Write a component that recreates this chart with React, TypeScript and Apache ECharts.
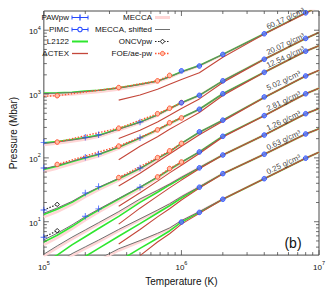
import React, { useEffect, useRef } from 'react';
import * as echarts from 'echarts';

const FONT = '"Liberation Sans", Arial, Helvetica, sans-serif';

const densities = ['60.17', '20.07', '12.54', '5.02', '2.81', '1.26', '0.63', '0.25'];
const tGrid = [1e5, 1.25e5, 1.6e5, 2e5, 2.5e5, 3.5e5, 5e5, 6.7e5, 8.2e5, 1e6, 1.35e6, 2e6, 4e6, 8e6, 1e7];

const l2122 = [
  [1035, 1047, 1070, 1110, 1150, 1250, 1420, 1600, 1870, 2230, 2800, 4180, 8790, 18700, 23900],
  [172, 181, 194, 208, 227, 285, 364, 472, 593, 731, 955, 1610, 3510, 7440, 9230],
  [65.8, 74.3, 86.9, 100, 113, 147, 205, 275, 345, 425, 578, 1010, 2190, 4690, 5730],
  [13.0, 15.7, 20.1, 26.6, 33.9, 47.2, 68.1, 98.2, 125, 169, 252, 390, 885, 1920, 2350],
  [4.81, 6.14, 8.4, 11.5, 15.2, 22.7, 34.5, 49.8, 65.8, 85.5, 124, 218, 459, 1010, 1233],
  [2.3, 3.0, 4.33, 5.82, 7.83, 12.1, 20.1, 29.0, 37.7, 48.1, 69.8, 111, 228, 492, 593],
  [null, null, 2.2, 2.85, 3.83, 5.93, 9.33, 13.7, 17.8, 23.5, 34.7, 56.6, 114, 237, 285],
  [null, null, null, null, null, 2.4, 3.83, 5.52, 7.17, 9.82, 14.0, 22.5, 47.2, 98.9, 123],
];

const meccaShifted = [
  [1020, 1032, 1055, 1095, 1140, 1240, 1410, 1590, 1860, 2220, 2790, 4170, 8790, 18700, 23900],
  [168, 177, 190, 204, 223, 281, 360, 468, 590, 728, 953, 1610, 3510, 7440, 9230],
  [67.5, 76, 88.5, 101.5, 114.5, 148, 206, 276, 346, 426, 578, 1010, 2190, 4690, 5730],
  [13.6, 16.4, 20.8, 27.3, 34.6, 47.8, 68.5, 98.5, 125, 169, 252, 390, 885, 1920, 2350],
  [5.2, 6.6, 8.9, 12.0, 15.7, 23.2, 35.0, 50.2, 66.2, 85.8, 124, 218, 459, 1010, 1233],
  [3.1, 4.18, 5.72, 7.43, 9.66, 14.4, 22.7, 31.0, 39.0, 49.8, 70.5, 111, 228, 492, 593],
  [null, 2.3, 3.16, 4.04, 5.15, 7.57, 11.1, 15.2, 19.1, 24.8, 35.2, 56.6, 114, 237, 285],
  [null, null, null, null, 2.6, 3.77, 5.07, 6.58, 7.98, 10.4, 14.4, 22.6, 47.2, 98.9, 123],
];

const mecca = [
  [950, 965, 990, 1030, 1075, 1180, 1360, 1550, 1820, 2190, 2770, 4150, 8790, 18700, 23900],
  [160, 168, 181, 195, 214, 272, 352, 462, 585, 722, 950, 1600, 3510, 7440, 9230],
  [60.5, 68.5, 80.5, 93, 106, 140, 198, 268, 339, 420, 575, 1005, 2190, 4690, 5730],
  [11.8, 14.3, 18.5, 24.6, 31.6, 44.5, 65.0, 95.0, 122, 166, 250, 388, 885, 1920, 2350],
  [4.35, 5.6, 7.7, 10.6, 14.1, 21.3, 32.8, 48.0, 64.0, 84.0, 123, 217, 459, 1010, 1233],
  [2.9, 3.9, 5.35, 7.0, 9.2, 13.8, 22.0, 30.3, 38.4, 49.3, 70.2, 111, 228, 492, 593],
  [null, 2.15, 2.95, 3.78, 4.85, 7.2, 10.7, 14.8, 18.7, 24.4, 35.0, 56.6, 114, 237, 285],
  [null, null, null, null, 2.45, 3.55, 4.85, 6.35, 7.75, 10.2, 14.3, 22.6, 47.2, 98.9, 123],
];

const actexT = [3.5e5, 5e5, 6.7e5, 8.2e5, 1e6, 1.35e6, 2e6, 4e6, 8e6, 1e7];
const actex = [
  [804, 966, 1190, 1420, 1690, 2150, 3770, 8690, 18400, 23500],
  [201, 270, 364, 465, 593, 839, 1520, 3510, 7440, 9230],
  [93.3, 152, 215, 280, 357, 515, 949, 2190, 4690, 5730],
  [36.4, 57.3, 86.9, 115, 152, 231, 376, 885, 1920, 2350],
  [17.5, 28.5, 43.3, 58.2, 76.9, 117, 212, 459, 1010, 1233],
  [9.17, 16.3, 25.2, 33.9, 44.9, 67.5, 111, 228, 492, 593],
  [4.49, 7.57, 11.9, 16.0, 21.9, 33.6, 56.6, 114, 237, 285],
  [null, 2.95, 4.81, 6.47, 9.17, 13.5, 22.5, 47.2, 98.9, 123],
];

const foeT = [1e5, 1.25e5, 3.5e5, 6.7e5, 8.2e5, 1e6];
const foe = [
  [923, 942, 1264, 1610, 1960, null],
  [null, 177, 292, 492, 599, 735],
  [null, 79, 153, 275, 355, 423],
  [null, null, 49.2, 101, 129, 169],
  [null, null, null, 50.3, 68.1, 86.1],
];

const pawT = [1e5, 2e5, 2.5e5, 5e5];
const paw = [
  null,
  [175, 210, 231, 364],
  [69.3, 102, 115, 206],
  [15.3, 28.2, 35.5, 69.3],
  [5.72, 12.2, 15.9, 34.7],
];

const oncvT = [1e5, 1.25e5];
const oncv = [
  [15.3, 18.7],
  [5.72, 7.23],
];

const pimcT = [1e6, 1.35e6, 2e6, 4e6, 8e6];
const pimc = [
  [2310, 2750, 4180, 8790, 18700],
  [731, 955, 1610, 3510, 7440],
  [null, 578, 1010, 2190, 4690],
  [null, 256, 390, 901, 1920],
  [null, 124, 218, 459, 1010],
  [null, 69.8, 111, 228, 492],
  [null, 34.7, 56.6, 114, 237],
  [9.89, 14.0, 22.5, 47.2, 98.9],
];

const labelT = 4.3e6;
const labelP = [9760, 3900, 2430, 1072, 511, 254, 126, 52.5];

const xMajor = [1e5, 1e6, 1e7];
const yMajor = [10, 100, 1000, 10000];

const pairs = (ts: number[], ps: (number | null)[]) =>
  ts.map((t, i) => (ps[i] == null ? null : [t, ps[i] as number])).filter((d) => d !== null) as number[][];

const C = {
  green: '#2fe62f',
  red: '#c4473a',
  gray: '#707070',
  pink: '#ffd6d6',
  foe: '#ff5533',
  blue: '#2448ff',
  frame: '#4a4a4a',
};

function buildOption() {
  const series: any[] = [];
  densities.forEach((d, i) => {
    series.push({
      name: `MECCA ${d}`, type: 'line', data: pairs(tGrid, mecca[i]), showSymbol: false, symbol: 'none',
      lineStyle: { color: C.pink, width: 2.6 }, z: 2, silent: true,
    });
  });
  densities.forEach((d, i) => {
    series.push({
      name: `L2122 ${d}`, type: 'line', data: pairs(tGrid, l2122[i]), symbol: 'none',
      lineStyle: { color: C.green, width: 1.6 }, z: 3, silent: true,
    });
  });
  densities.forEach((d, i) => {
    series.push({
      name: `MECCA, shifted ${d}`, type: 'line', data: pairs(tGrid, meccaShifted[i]), symbol: 'none',
      lineStyle: { color: C.gray, width: 1 }, z: 4, silent: true,
    });
  });
  densities.forEach((d, i) => {
    series.push({
      name: `ACTEX ${d}`, type: 'line', data: pairs(actexT, actex[i]), symbol: 'none',
      lineStyle: { color: C.red, width: 1.1 }, z: 5, silent: true,
    });
  });
  foe.forEach((row, i) => {
    const data = foeT
      .map((t, j) => (row[j] == null ? null : t === 1e5 ? { value: [t, row[j]], symbol: 'none' } : { value: [t, row[j]] }))
      .filter((v) => v !== null);
    series.push({
      name: `FOE/ae-pw ${densities[i]}`, type: 'line', data, symbol: 'circle', symbolSize: 4.5, showSymbol: true,
      itemStyle: { color: '#ffc0a8', borderColor: C.foe, borderWidth: 1 },
      lineStyle: { color: C.foe, width: 1.4, type: [1.5, 1.5] }, z: 6, silent: true,
    });
  });
  oncv.forEach((row, i) => {
    const data = oncvT.map((t, j) => (t === 1e5 ? { value: [t, row[j]], symbol: 'none' } : { value: [t, row[j]] }));
    series.push({
      name: `ONCVpw ${densities[i + 3]}`, type: 'line', data, symbol: 'diamond', symbolSize: 4.5, showSymbol: true,
      itemStyle: { color: '#fff', borderColor: '#222', borderWidth: 1 },
      lineStyle: { color: '#222', width: 1.2, type: [1.5, 1.5] }, z: 7, silent: true,
    });
  });
  const pawData: number[][] = [];
  paw.forEach((row) => { if (row) pawData.push(...pairs(pawT, row)); });
  series.push({
    name: 'PAWpw', type: 'scatter', data: pawData,
    symbol: 'path://M4,0h1.3v4h4v1.3h-4v4h-1.3v-4h-4v-1.3h4z', symbolSize: 6.5,
    itemStyle: { color: C.blue }, z: 8, silent: true,
  });
  const pimcData: number[][] = [];
  pimc.forEach((row) => pimcData.push(...pairs(pimcT, row)));
  series.push({
    name: 'PIMC', type: 'scatter', data: pimcData, symbol: 'circle', symbolSize: 4.6,
    itemStyle: { color: '#5a7cff', borderColor: C.blue, borderWidth: 1 }, z: 9, silent: true,
  });
  series.push({
    name: 'density labels', type: 'scatter', symbolSize: 0, silent: true, z: 10,
    data: densities.map((d, i) => ({ value: [labelT, labelP[i]], name: `${d} g/cm³` })),
    label: {
      show: true, formatter: (p: any) => p.name, position: [0, 0], align: 'left', verticalAlign: 'bottom',
      rotate: 25, fontSize: 7.8, fontFamily: FONT, color: '#111',
    },
  });
  // axis ticks on all four sides
  const tickData: number[][] = [];
  for (let e = 5; e < 7; e++) for (let m = 2; m <= 9; m++) tickData.push([m * Math.pow(10, e), 10, 0]);
  xMajor.forEach((v) => tickData.push([v, 10, 2]));
  for (let e = 0; e < 5; e++) for (let m = 2; m <= 9; m++) {
    const v = m * Math.pow(10, e);
    if (v > 3 && v < 2e4) tickData.push([2e5, v, 1]);
  }
  yMajor.forEach((v) => tickData.push([2e5, v, 3]));
  series.push({
    name: 'ticks', type: 'custom', data: tickData, silent: true, z: 11, clip: false,
    renderItem: (params: any, api: any) => {
      const kind = api.value(2);
      const cs = params.coordSys;
      const len = kind >= 2 ? 5 : 3;
      const st = { stroke: C.frame, lineWidth: 0.8 };
      if (kind === 0 || kind === 2) {
        const px = api.coord([api.value(0), 10])[0];
        return {
          type: 'group', children: [
            { type: 'line', shape: { x1: px, y1: cs.y + cs.height, x2: px, y2: cs.y + cs.height - len }, style: st },
            { type: 'line', shape: { x1: px, y1: cs.y, x2: px, y2: cs.y + len }, style: st },
          ],
        };
      }
      const py = api.coord([2e5, api.value(1)])[1];
      return {
        type: 'group', children: [
          { type: 'line', shape: { x1: cs.x, y1: py, x2: cs.x + len, y2: py }, style: st },
          { type: 'line', shape: { x1: cs.x + cs.width, y1: py, x2: cs.x + cs.width - len, y2: py }, style: st },
        ],
      };
    },
  });

  const supLabel = (v: number) => '{b|10}{s|' + Math.round(Math.log10(v)) + '}';
  const rich = {
    b: { fontSize: 8, fontFamily: FONT, color: '#111', verticalAlign: 'bottom' },
    s: { fontSize: 5.5, fontFamily: FONT, color: '#111', verticalAlign: 'bottom', padding: [0, 0, 5, 0] },
  };

  // legend drawn as graphic
  const rows = [17.5, 29.5, 41.5, 53.5];
  const g: any[] = [];
  const txt = (text: string, x: number, y: number) => ({
    type: 'text', silent: true, z: 20,
    style: { text, x, y, fill: '#111', fontSize: 8, fontFamily: FONT, align: 'right', verticalAlign: 'middle', textAlign: 'right', textVerticalAlign: 'middle' },
  });
  const ln = (x1: number, x2: number, y: number, stroke: string, lineWidth: number, lineDash?: number[]) => ({
    type: 'line', silent: true, z: 20, shape: { x1, y1: y, x2, y2: y }, style: { stroke, lineWidth, lineDash },
  });
  const names1 = ['PAWpw', 'PIMC', 'L2122', 'ACTEX'];
  const names2 = ['MECCA', 'MECCA, shifted', 'ONCVpw', 'FOE/ae-pw'];
  names1.forEach((n, i) => g.push(txt(n, 69, rows[i])));
  names2.forEach((n, i) => g.push(txt(n, 152, rows[i])));
  // PAWpw
  g.push(ln(72, 88, rows[0], C.blue, 1));
  g.push({ type: 'line', z: 20, shape: { x1: 72, y1: rows[0] - 2, x2: 72, y2: rows[0] + 2 }, style: { stroke: C.blue, lineWidth: 1 } });
  g.push({ type: 'line', z: 20, shape: { x1: 88, y1: rows[0] - 2, x2: 88, y2: rows[0] + 2 }, style: { stroke: C.blue, lineWidth: 1 } });
  g.push({ type: 'line', z: 20, shape: { x1: 80, y1: rows[0] - 3, x2: 80, y2: rows[0] + 3 }, style: { stroke: C.blue, lineWidth: 1.3 } });
  // PIMC
  g.push(ln(72, 88, rows[1], C.blue, 1));
  g.push({ type: 'line', z: 20, shape: { x1: 72, y1: rows[1] - 2, x2: 72, y2: rows[1] + 2 }, style: { stroke: C.blue, lineWidth: 1 } });
  g.push({ type: 'line', z: 20, shape: { x1: 88, y1: rows[1] - 2, x2: 88, y2: rows[1] + 2 }, style: { stroke: C.blue, lineWidth: 1 } });
  g.push({ type: 'circle', z: 21, shape: { cx: 80, cy: rows[1], r: 2.2 }, style: { fill: '#fff', stroke: C.blue, lineWidth: 1.1 } });
  g.push(ln(72, 88, rows[2], C.green, 2));
  g.push(ln(72, 88, rows[3], C.red, 1.3));
  g.push(ln(155, 170, rows[0], C.pink, 3));
  g.push(ln(155, 170, rows[1], C.gray, 1));
  g.push(ln(155, 170, rows[2], '#222', 1.2, [1.5, 1.5]));
  g.push({ type: 'polygon', z: 21, shape: { points: [[162.5, rows[2] - 2.3], [164.8, rows[2]], [162.5, rows[2] + 2.3], [160.2, rows[2]]] }, style: { fill: '#fff', stroke: '#222', lineWidth: 1 } });
  g.push(ln(155, 170, rows[3], C.foe, 1.4, [1.5, 1.5]));
  g.push({ type: 'circle', z: 21, shape: { cx: 162.5, cy: rows[3], r: 2.1 }, style: { fill: '#ffc0a8', stroke: C.foe, lineWidth: 1 } });
  g.push({
    type: 'text', z: 20, silent: true,
    style: { text: '(b)', x: 293, y: 243, fill: '#111', fontSize: 14, fontFamily: FONT, align: 'center', verticalAlign: 'middle', textAlign: 'center', textVerticalAlign: 'middle' },
  });

  return {
    animation: false,
    backgroundColor: '#fff',
    textStyle: { fontFamily: FONT },
    grid: { left: 32, right: 13, top: 11, bottom: 28, show: true, borderColor: C.frame, borderWidth: 1, backgroundColor: 'transparent' },
    xAxis: {
      type: 'log', logBase: 10, min: 1e5, max: 1e7,
      name: 'Temperature (K)', nameLocation: 'middle', nameGap: 17,
      nameTextStyle: { fontSize: 10, fontFamily: FONT, color: '#111' },
      axisLine: { show: false }, axisTick: { show: false }, splitLine: { show: false }, minorTick: { show: false },
      axisLabel: { formatter: supLabel, rich, margin: 5, showMinLabel: true, showMaxLabel: true },
    },
    yAxis: {
      type: 'log', logBase: 10, min: 3, max: 2e4,
      name: 'Pressure (Mbar)', nameLocation: 'middle', nameGap: 19,
      nameTextStyle: { fontSize: 10, fontFamily: FONT, color: '#111' },
      axisLine: { show: false }, axisTick: { show: false }, splitLine: { show: false }, minorTick: { show: false },
      axisLabel: { formatter: supLabel, rich, margin: 3, showMinLabel: false, showMaxLabel: false },
    },
    graphic: g,
    series,
  };
}

export default function App() {
  const ref = useRef<HTMLDivElement>(null);
  useEffect(() => {
    if (!ref.current) return;
    const chart = echarts.init(ref.current, undefined, { renderer: 'svg' });
    chart.setOption(buildOption() as any);
    return () => chart.dispose();
  }, []);
  return <div ref={ref} style={{ position: 'absolute', left: 0, top: 0, width: 332, height: 291 }} />;
}
